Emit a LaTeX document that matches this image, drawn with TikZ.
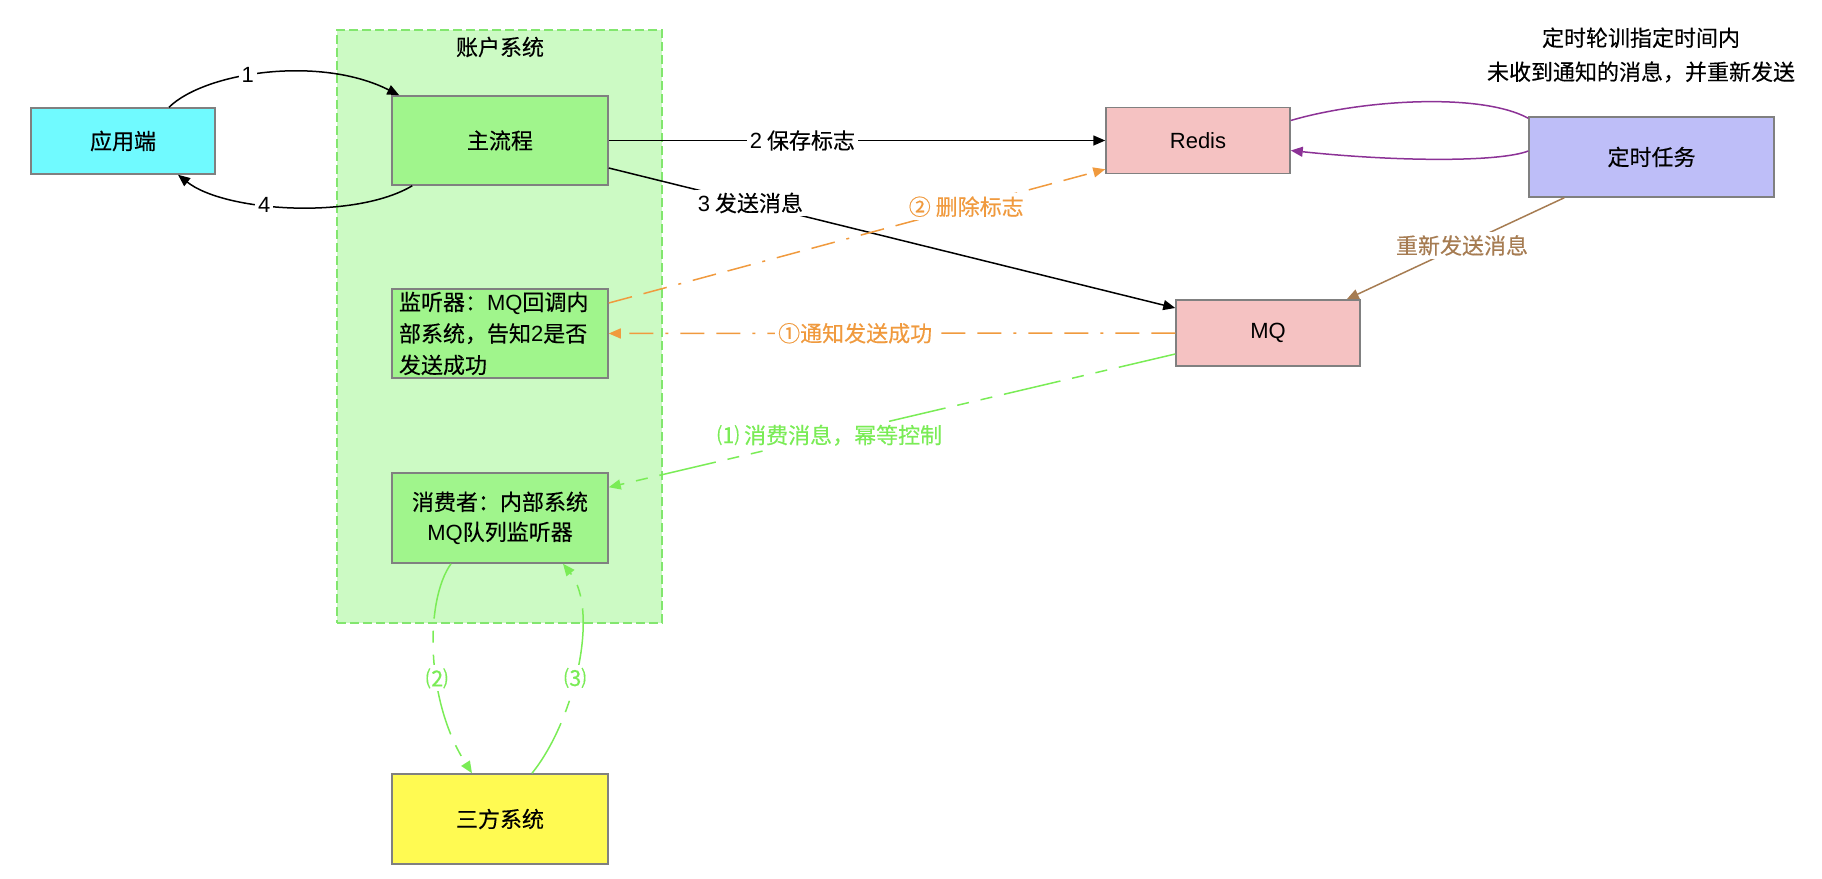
\documentclass[tikz,border=0pt]{standalone}
\usepackage{fontspec}
\setmainfont{Noto Sans CJK SC}[FakeBold=0.3]
\newfontfamily\lat{Liberation Sans}
\usetikzlibrary{arrows.meta,calc}
\newcommand\myfs{\fontsize{22}{31.5}\selectfont}
\definecolor{cyanfill}{RGB}{112,250,255}
\definecolor{gfill}{RGB}{160,245,140}
\definecolor{contfill}{RGB}{204,250,196}
\definecolor{contdraw}{RGB}{130,230,110}
\definecolor{pinkfill}{RGB}{245,194,194}
\definecolor{lavfill}{RGB}{190,190,248}
\definecolor{yelfill}{RGB}{255,250,82}
\definecolor{boxgray}{RGB}{128,128,128}
\definecolor{orangec}{RGB}{240,154,62}
\definecolor{greenc}{RGB}{122,236,86}
\definecolor{purplec}{RGB}{140,50,150}
\definecolor{brownc}{RGB}{166,124,82}
\begin{document}
\begin{tikzpicture}[x=1pt,y=-1pt,
  box/.style={draw=boxgray, line width=1.5pt, inner sep=0pt, font=\myfs, minimum width=216pt, minimum height=89pt},
  container/.style={draw=contdraw, fill=contfill, line width=1.3pt, dash pattern=on 9pt off 4pt},
  tip/.style={-{Triangle[length=12pt,width=10pt]}},
  blk/.style={draw=black, line width=1.5pt},
  org/.style={draw=orangec, line width=1.5pt, dash pattern=on 24pt off 12pt on 24pt off 12pt on 3pt off 12pt},
  grn/.style={draw=greenc, line width=1.5pt, dash pattern=on 58pt off 12pt on 12pt off 12pt on 12pt off 12pt},
  pur/.style={draw=purplec, line width=1.5pt},
  brn/.style={draw=brownc, line width=1.5pt},
  elabel/.style={fill=white, inner sep=3pt, font=\myfs},
  plain/.style={inner sep=0pt, font=\myfs}
]
\useasboundingbox (0,0) rectangle (1822,878);

% container
\node[container, minimum width=325pt, minimum height=593pt] (acct) at (499.5,326.5) {};
\node[plain] (accttitle) at (500,47) {账户系统};

% boxes
\node[box, fill=cyanfill, minimum width=184pt, minimum height=66pt] (app) at (123,141) {应用端};
\node[box, fill=gfill] (main) at (500,140.5) {主流程};
\node[box, fill=gfill, text width=202pt, inner xsep=7pt, align=left] (listener) at (500,333.5)
  {监听器：{\lat MQ}回调内\\部系统，告知{\lat 2}是否\\发送成功};
\node[box, fill=gfill, minimum height=90pt, align=center, font=\fontsize{22}{30}\selectfont] (consumer) at (500,518)
  {消费者：内部系统\\{\lat MQ}队列监听器};
\node[box, fill=yelfill, minimum height=90pt] (third) at (500,819) {三方系统};
\node[box, fill=pinkfill, minimum width=184pt, minimum height=66pt] (redis) at (1198,140.5) {\lat Redis};
\node[box, fill=pinkfill, minimum width=184pt, minimum height=66pt] (mq) at (1268,333) {\lat MQ};
\node[box, fill=lavfill, minimum width=245pt, minimum height=80pt] (timer) at (1651.5,157) {定时任务};

\node[plain, align=center, font=\fontsize{22}{34}\selectfont] (note) at (1641,55)
  {定时轮训指定时间内\\未收到通知的消息，并重新发送};

% black connectors
\draw[blk, tip] ($(app.north)+(46,0)$) .. controls (205,72) and (320,55) .. ($(main.north west)+(8,0)$)
  node[elabel, pos=0.42] (l1) {\lat 1};
\draw[blk, tip] ($(main.south west)+(21,0)$) .. controls (355,220) and (225,212) .. ($(app.south)+(55,0)$)
  node[elabel, pos=0.6] (l4) {\lat 4};
\draw[blk, tip] (main.east) -- (redis.west)
  node[elabel, pos=0.39] (l2) {{\lat 2} 保存标志};
\draw[blk, tip] ($(main.east)+(0,27.5)$) -- ($(mq.west)+(0,-25)$)
  node[elabel, pos=0.25] (l3) {{\lat 3} 发送消息};

% orange connectors
\draw[org, tip] ($(listener.east)+(0,-30.5)$) -- ($(redis.south west)+(0,-5)$)
  node[elabel, text=orangec, pos=0.72] (lo2) {② 删除标志};
\draw[org, tip] (mq.west) -- (listener.east)
  node[elabel, text=orangec, pos=0.565] (lo1) {①通知发送成功};

% green connectors
\draw[grn, tip] ($(mq.west)+(0,21)$) -- ($(consumer.north east)+(0,15)$)
  node[elabel, text=greenc, pos=0.61] (lg1) {⑴ 消费消息，幂等控制};
\draw[grn, tip] ($(consumer.south)+(-49,0)$) .. controls (425,600) and (425,700) .. ($(third.north)+(-28,0)$)
  node[elabel, text=greenc, pos=0.6] (lg2) {⑵};
\draw[grn, tip] ($(third.north)+(32,0)$) .. controls (575,720) and (600,610) .. ($(consumer.south)+(63,0)$)
  node[elabel, text=greenc, pos=0.45] (lg3) {⑶};

% purple connectors
\draw[pur] ($(redis.east)+(0,-20)$) .. controls (1360,100) and (1480,92) .. ($(timer.north west)+(0,2)$);
\draw[pur, tip] ($(timer.west)+(0,-6)$) .. controls (1500,162) and (1400,162) .. ($(redis.east)+(0,10)$);

% brown connector
\draw[brn, tip] ($(timer.south west)+(36,0)$) -- ($(mq.north east)+(-14,0)$)
  node[elabel, text=brownc, pos=0.47] (lb) {重新发送消息};
\end{tikzpicture}
\end{document}
